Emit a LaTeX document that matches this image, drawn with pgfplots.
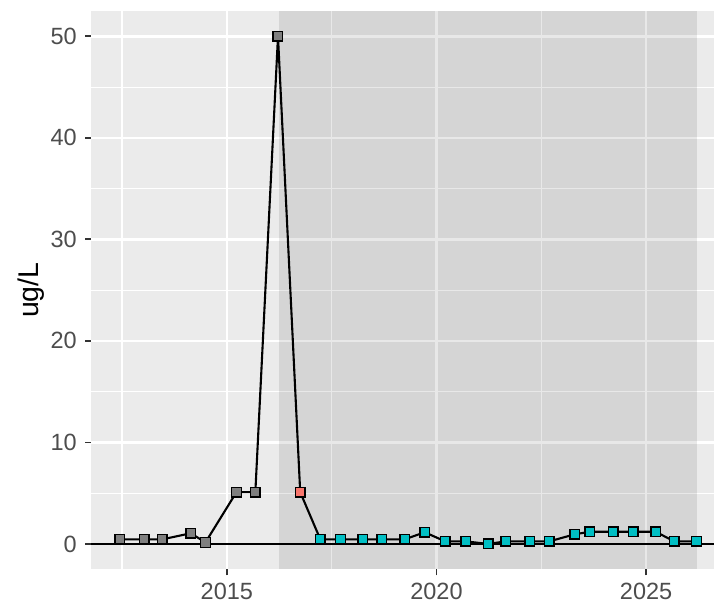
\documentclass[border=0pt]{standalone}
\usepackage{fontspec}
\setmainfont{Liberation Sans}
\usepackage{pgfplots}
\pgfplotsset{compat=1.18}
\usetikzlibrary{calc}
\definecolor{panelbg}{HTML}{EBEBEB}
\definecolor{gray20}{HTML}{333333}
\definecolor{gray30}{HTML}{4D4D4D}
\definecolor{gfill}{HTML}{7F7F7F}
\definecolor{rfill}{HTML}{F8766D}
\definecolor{tfill}{HTML}{00BFC4}
\begin{document}
\begin{tikzpicture}
\begin{axis}[
  scale only axis, width=623pt, height=558.3pt,
  xmin=2011.76, xmax=2026.62, ymin=-2.5, ymax=52.5,
  axis background/.style={fill=panelbg},
  axis line style={draw=none},
  grid=both,
  major grid style={white, line width=2.4pt},
  minor grid style={white, line width=1.2pt},
  xtick={2015,2020,2025}, minor xtick={2012.5,2017.5,2022.5},
  ytick={0,10,20,30,40,50}, minor ytick={5,15,25,35,45},
  tick pos=left,
  tick align=outside, major tick length=6pt, minor tick length=0pt,
  every tick/.style={draw=gray20, line width=1.8pt},
  /pgf/number format/1000 sep={},
  /pgf/number format/assume math mode=true,
  ticklabel style={font=\fontsize{23.5}{27}\selectfont, text=gray30},
  xticklabel style={inner sep=0pt, anchor=north, yshift=-7.4pt},
  yticklabel style={inner sep=0pt, anchor=east, xshift=-8pt},
  ylabel={ug/L},
  ylabel style={font=\fontsize{28.5}{32}\selectfont, at={(rel axis cs:0,0.5)}, anchor=center, yshift=60pt},
  clip=true,
]
\coordinate (ll) at (rel axis cs:0,0);
\coordinate (ur) at (rel axis cs:1,1);
\addplot[draw=none, fill=black, fill opacity=0.09, forget plot] coordinates {(2016.24,-2.5) (2026.22,-2.5) (2026.22,52.5) (2016.24,52.5)} -- cycle;
\addplot[black, line width=1.9pt, forget plot] coordinates {(2011.76,0) (2026.62,0)};
\addplot[black, line width=2.1pt, no marks] coordinates {
(2012.45,0.45) (2013.03,0.45) (2013.46,0.45) (2014.14,1.05) (2014.49,0.15)
(2015.23,5.1) (2015.68,5.1) (2016.22,50) (2016.75,5.1)
(2017.23,0.45) (2017.71,0.45) (2018.24,0.45) (2018.70,0.45) (2019.24,0.45)
(2019.72,1.15) (2020.21,0.25) (2020.70,0.25) (2021.23,0.0) (2021.65,0.25)
(2022.23,0.25) (2022.69,0.25) (2023.30,0.95) (2023.66,1.2) (2024.22,1.2)
(2024.69,1.2) (2025.23,1.2) (2025.67,0.25) (2026.20,0.25)};
\addplot[only marks, mark=square*, mark size=4.8pt, mark options={draw=black, fill=gfill, line width=1.4pt}] coordinates {
(2012.45,0.45) (2013.03,0.45) (2013.46,0.45) (2014.14,1.05) (2014.49,0.15)
(2015.23,5.1) (2015.68,5.1) (2016.22,50)};
\addplot[only marks, mark=square*, mark size=4.8pt, mark options={draw=black, fill=rfill, line width=1.4pt}] coordinates {
(2016.75,5.1)};
\addplot[only marks, mark=square*, mark size=4.8pt, mark options={draw=black, fill=tfill, line width=1.4pt}] coordinates {
(2017.23,0.45) (2017.71,0.45) (2018.24,0.45) (2018.70,0.45) (2019.24,0.45)
(2019.72,1.15) (2020.21,0.25) (2020.70,0.25) (2021.23,0.0) (2021.65,0.25)
(2022.23,0.25) (2022.69,0.25) (2023.30,0.95) (2023.66,1.2) (2024.22,1.2)
(2024.69,1.2) (2025.23,1.2) (2025.67,0.25) (2026.20,0.25)};
\end{axis}
\pgfresetboundingbox
\path[use as bounding box] ($(ll)+(-91pt,-33.7pt)$) rectangle ($(ur)+(0pt,11pt)$);
\end{tikzpicture}
\end{document}
